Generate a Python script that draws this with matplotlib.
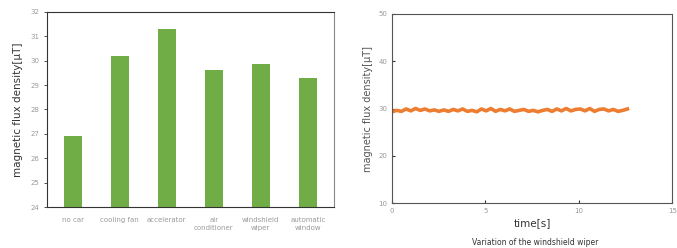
import matplotlib
matplotlib.use("Agg")
import matplotlib.pyplot as plt
import numpy as np

categories = ["no car", "cooling fan", "accelerator", "air\nconditioner", "windshield\nwiper", "automatic\nwindow"]
flux_values = [26.9, 30.2, 31.3, 29.6, 29.85, 29.3]

# windshield wiper trace (about 0.25 s steps)
trace_values = [29.3, 29.6, 29.4, 29.9, 29.5, 30.0, 29.6, 29.9, 29.5, 29.7,
                29.4, 29.7, 29.4, 29.8, 29.5, 29.9, 29.4, 29.6, 29.3, 29.9,
                29.5, 30.0, 29.4, 29.8, 29.5, 29.9, 29.4, 29.6, 29.8, 29.4,
                29.6, 29.3, 29.6, 29.8, 29.4, 29.9, 29.5, 30.0, 29.5, 29.8,
                29.9, 29.5, 30.0, 29.4, 29.8, 29.9, 29.5, 29.8, 29.4, 29.6, 29.9]
trace_time = np.linspace(0.0, 12.6, len(trace_values))

green = "#70AD47"
orange = "#ED7D31"
grey = "#9a9a9a"

fig = plt.figure(figsize=(6.77, 2.48), dpi=100)

ax1 = fig.add_axes([0.069, 0.165, 0.424, 0.787])
x = np.arange(len(categories))
ax1.bar(x, flux_values, width=0.38, color=green)
ax1.set_ylim(24, 32)
ax1.set_xlim(-0.55, len(categories) - 0.45)
ax1.set_yticks(range(24, 33))
ax1.set_xticks(x)
ax1.set_xticklabels(categories, fontsize=5, color=grey, linespacing=1.5)
ax1.tick_params(axis="y", labelsize=5, labelcolor=grey, length=2, width=0.6, color="#333333")
ax1.tick_params(axis="x", length=0, pad=7)
ax1.set_ylabel("magnetic flux density[μT]", fontsize=7.5, color="#333333", labelpad=5)
for side in ["left", "bottom", "top"]:
    ax1.spines[side].set_color("#333333")
    ax1.spines[side].set_linewidth(0.8)
ax1.spines["right"].set_color("#888888")
ax1.spines["right"].set_linewidth(0.8)

ax2 = fig.add_axes([0.579, 0.181, 0.414, 0.763])
ax2.plot(trace_time, trace_values, color=orange, linewidth=2.6)
ax2.set_xlim(0, 15)
ax2.set_ylim(10, 50)
ax2.set_xticks([0, 5, 10, 15])
ax2.set_yticks([10, 20, 30, 40, 50])
ax2.tick_params(labelsize=5, labelcolor=grey, direction="in", length=2, width=0.8, color="#333333")
ax2.set_xlabel("time[s]", fontsize=7.5, color="#333333", labelpad=3)
ax2.set_ylabel("magnetic flux density[μT]", fontsize=7, color="#555555", labelpad=4)
for side in ax2.spines:
    ax2.spines[side].set_color("#555555")
    ax2.spines[side].set_linewidth(0.8)

fig.text(0.79, 0.004, "Variation of the windshield wiper", fontsize=5.5, color="#333333",
         ha="center", va="bottom")

fig.savefig("out.png", dpi=100)
